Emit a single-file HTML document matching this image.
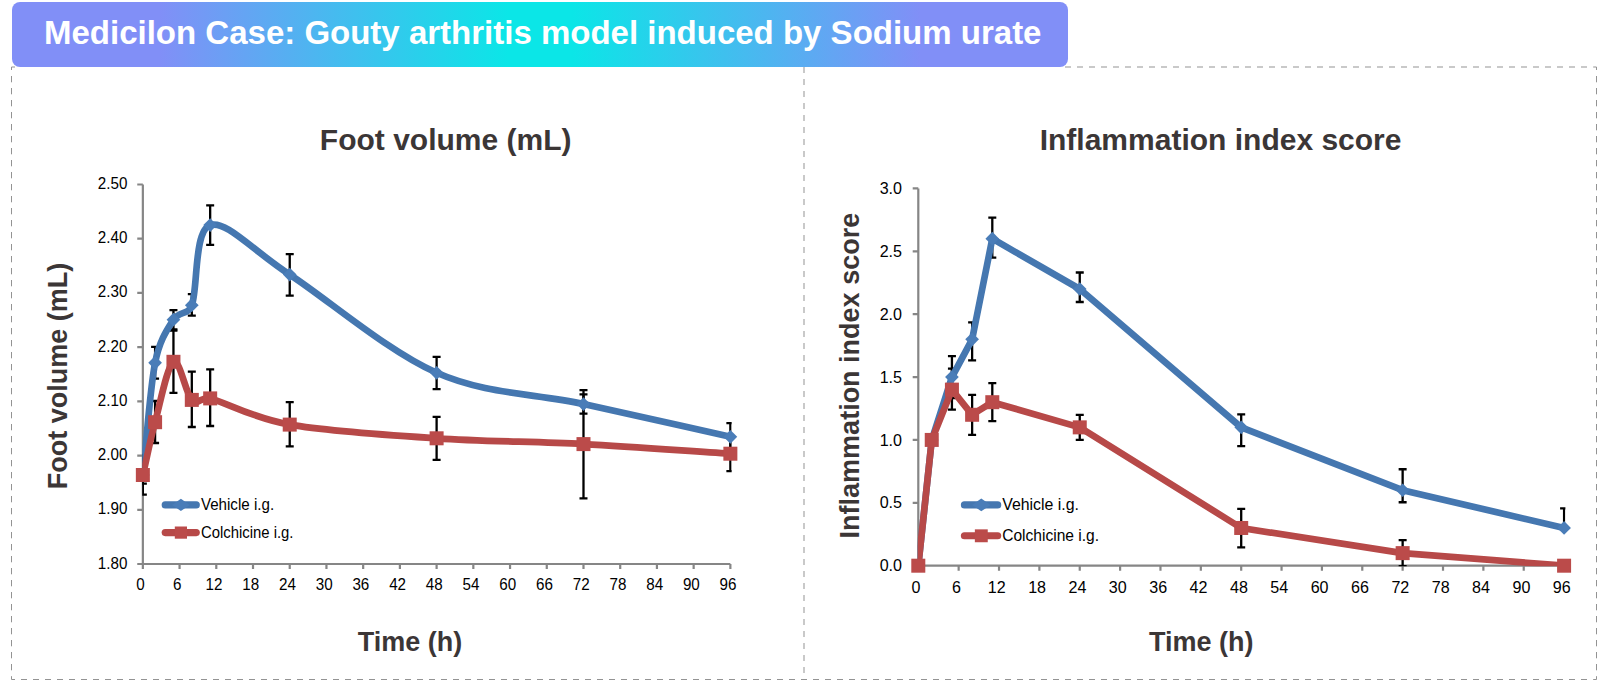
<!DOCTYPE html>
<html lang="en"><head><meta charset="utf-8"><title>Medicilon Case: Gouty arthritis model induced by Sodium urate</title>
<style>html,body{margin:0;padding:0;background:#fff;}body{width:1608px;height:687px;overflow:hidden;position:relative;font-family:"Liberation Sans", sans-serif;}svg{position:absolute;left:0;top:0;display:block;}text{font-family:"Liberation Sans", sans-serif;}.tk{font-size:15.2px;fill:#000;}.ttl{font-weight:bold;font-size:30px;fill:#3b3636;}.axt{font-weight:bold;font-size:27px;fill:#3b3636;}.lg{font-size:15.2px;fill:#000;}.tkr{font-size:16.1px;fill:#000;}</style>
</head><body>
<svg width="1608" height="687" viewBox="0 0 1608 687">
<defs><linearGradient id="bg" x1="0" y1="0" x2="1" y2="0"><stop offset="0" stop-color="#818ff7"/><stop offset="0.14" stop-color="#818ff7"/><stop offset="0.47" stop-color="#0be6e7"/><stop offset="0.53" stop-color="#0be6e7"/><stop offset="0.86" stop-color="#818ff7"/><stop offset="1" stop-color="#818ff7"/></linearGradient>
<clipPath id="cl"><rect x="142.20" y="100" width="589.47" height="464.65"/></clipPath>
<clipPath id="cr"><rect x="917.65" y="100" width="647.74" height="466.35"/></clipPath>
</defs>
<g fill="none" stroke="#939393" stroke-width="1">
<path d="M11.5 76 V670.4 M1596.5 76 V670.4" stroke-dasharray="6.3 5.7"/>
<path d="M21 679.5 H1587.1 M1065 67 H1587.1" stroke-dasharray="6 6"/>
<path d="M804 67 V673.1" stroke-dasharray="6 6"/>
<path d="M11.5 70 V67 H15 M1593.2 67 H1596.5 V70 M11.5 676.2 V679.5 H15 M1593.2 679.5 H1596.5 V676.2"/>
</g>
<rect x="12" y="2" width="1056" height="65" rx="8" ry="8" fill="url(#bg)"/>
<text x="44" y="44.1" font-size="33" font-weight="bold" fill="#fff">Medicilon Case: Gouty arthritis model induced by Sodium urate</text>
<text class="ttl" x="445.7" y="150.1" text-anchor="middle">Foot volume (mL)</text>
<text class="axt" x="410.1" y="650.8" text-anchor="middle">Time (h)</text>
<text class="axt" transform="translate(67.3 376) rotate(-90)" text-anchor="middle">Foot volume (mL)</text>
<path d="M142.85 184.50 V564.00 H730.37 M137.25 184.50 H142.85 M137.25 238.71 H142.85 M137.25 292.93 H142.85 M137.25 347.14 H142.85 M137.25 401.36 H142.85 M137.25 455.57 H142.85 M137.25 509.79 H142.85 M137.25 564.00 H142.85 M142.85 564.00 V569.00 M179.57 564.00 V569.00 M216.29 564.00 V569.00 M253.01 564.00 V569.00 M289.73 564.00 V569.00 M326.45 564.00 V569.00 M363.17 564.00 V569.00 M399.89 564.00 V569.00 M436.61 564.00 V569.00 M473.33 564.00 V569.00 M510.05 564.00 V569.00 M546.77 564.00 V569.00 M583.49 564.00 V569.00 M620.21 564.00 V569.00 M656.93 564.00 V569.00 M693.65 564.00 V569.00 M730.37 564.00 V569.00" fill="none" stroke="#868686" stroke-width="2.2"/>
<text class="tk" transform="translate(127.40 189.00) scale(1 1.07)" text-anchor="end">2.50</text>
<text class="tk" transform="translate(127.40 243.21) scale(1 1.07)" text-anchor="end">2.40</text>
<text class="tk" transform="translate(127.40 297.43) scale(1 1.07)" text-anchor="end">2.30</text>
<text class="tk" transform="translate(127.40 351.64) scale(1 1.07)" text-anchor="end">2.20</text>
<text class="tk" transform="translate(127.40 405.86) scale(1 1.07)" text-anchor="end">2.10</text>
<text class="tk" transform="translate(127.40 460.07) scale(1 1.07)" text-anchor="end">2.00</text>
<text class="tk" transform="translate(127.40 514.29) scale(1 1.07)" text-anchor="end">1.90</text>
<text class="tk" transform="translate(127.40 568.50) scale(1 1.07)" text-anchor="end">1.80</text>
<text class="tk" transform="translate(140.55 590.40) scale(1 1.07)" text-anchor="middle">0</text>
<text class="tk" transform="translate(177.27 590.40) scale(1 1.07)" text-anchor="middle">6</text>
<text class="tk" transform="translate(213.99 590.40) scale(1 1.07)" text-anchor="middle">12</text>
<text class="tk" transform="translate(250.71 590.40) scale(1 1.07)" text-anchor="middle">18</text>
<text class="tk" transform="translate(287.43 590.40) scale(1 1.07)" text-anchor="middle">24</text>
<text class="tk" transform="translate(324.15 590.40) scale(1 1.07)" text-anchor="middle">30</text>
<text class="tk" transform="translate(360.87 590.40) scale(1 1.07)" text-anchor="middle">36</text>
<text class="tk" transform="translate(397.59 590.40) scale(1 1.07)" text-anchor="middle">42</text>
<text class="tk" transform="translate(434.31 590.40) scale(1 1.07)" text-anchor="middle">48</text>
<text class="tk" transform="translate(471.03 590.40) scale(1 1.07)" text-anchor="middle">54</text>
<text class="tk" transform="translate(507.75 590.40) scale(1 1.07)" text-anchor="middle">60</text>
<text class="tk" transform="translate(544.47 590.40) scale(1 1.07)" text-anchor="middle">66</text>
<text class="tk" transform="translate(581.19 590.40) scale(1 1.07)" text-anchor="middle">72</text>
<text class="tk" transform="translate(617.91 590.40) scale(1 1.07)" text-anchor="middle">78</text>
<text class="tk" transform="translate(654.63 590.40) scale(1 1.07)" text-anchor="middle">84</text>
<text class="tk" transform="translate(691.35 590.40) scale(1 1.07)" text-anchor="middle">90</text>
<text class="tk" transform="translate(728.07 590.40) scale(1 1.07)" text-anchor="middle">96</text>
<g clip-path="url(#cl)">
<path d="M142.85 466.00 V483.60 M138.85 466.00 H146.85 M138.85 483.60 H146.85 M155.09 346.90 V378.70 M151.09 346.90 H159.09 M151.09 378.70 H159.09 M173.45 310.10 V329.30 M169.45 310.10 H177.45 M169.45 329.30 H177.45 M191.81 294.10 V315.70 M187.81 294.10 H195.81 M187.81 315.70 H195.81 M210.17 205.30 V244.90 M206.17 205.30 H214.17 M206.17 244.90 H214.17 M289.73 254.20 V295.60 M285.73 254.20 H293.73 M285.73 295.60 H293.73 M436.61 356.80 V389.10 M432.61 356.80 H440.61 M432.61 389.10 H440.61 M583.49 390.10 V413.70 M579.49 390.10 H587.49 M579.49 413.70 H587.49 M730.37 423.20 V450.40 M726.37 423.20 H734.37 M726.37 450.40 H734.37" fill="none" stroke="#000" stroke-width="2.30"/>
<path d="M142.85 455.00 V494.60 M138.85 455.00 H146.85 M138.85 494.60 H146.85 M155.09 401.00 V443.00 M151.09 401.00 H159.09 M151.09 443.00 H159.09 M173.45 330.70 V392.90 M169.45 330.70 H177.45 M169.45 392.90 H177.45 M191.81 371.60 V427.00 M187.81 371.60 H195.81 M187.81 427.00 H195.81 M210.17 369.30 V426.00 M206.17 369.30 H214.17 M206.17 426.00 H214.17 M289.73 402.20 V446.40 M285.73 402.20 H293.73 M285.73 446.40 H293.73 M436.61 416.80 V459.80 M432.61 416.80 H440.61 M432.61 459.80 H440.61 M583.49 394.30 V498.30 M579.49 394.30 H587.49 M579.49 498.30 H587.49 M730.37 436.00 V471.20 M726.37 436.00 H734.37 M726.37 471.20 H734.37" fill="none" stroke="#000" stroke-width="2.30"/>
<path d="M142.85 475.00 C146.93 437.60 149.99 388.68 155.09 362.80 C159.62 339.82 167.33 329.30 173.45 319.70 C179.57 310.10 187.58 316.10 191.81 305.20 C197.93 289.43 193.85 230.20 210.17 225.10 C226.49 220.00 251.99 249.98 289.73 274.60 C327.47 299.22 387.65 351.22 436.61 372.80 C485.57 394.38 534.53 393.43 583.49 404.10 C632.45 414.77 681.41 425.90 730.37 436.80" fill="none" stroke="#4577b0" stroke-width="6.70" stroke-linejoin="round" stroke-linecap="round"/>
</g>
<path d="M142.85 468.15 L149.70 475.00 L142.85 481.85 L136.00 475.00Z" fill="#4a7db8"/>
<path d="M155.09 355.95 L161.94 362.80 L155.09 369.65 L148.24 362.80Z" fill="#4a7db8"/>
<path d="M173.45 312.85 L180.30 319.70 L173.45 326.55 L166.60 319.70Z" fill="#4a7db8"/>
<path d="M191.81 298.35 L198.66 305.20 L191.81 312.05 L184.96 305.20Z" fill="#4a7db8"/>
<path d="M210.17 218.25 L217.02 225.10 L210.17 231.95 L203.32 225.10Z" fill="#4a7db8"/>
<path d="M289.73 267.75 L296.58 274.60 L289.73 281.45 L282.88 274.60Z" fill="#4a7db8"/>
<path d="M436.61 365.95 L443.46 372.80 L436.61 379.65 L429.76 372.80Z" fill="#4a7db8"/>
<path d="M583.49 397.25 L590.34 404.10 L583.49 410.95 L576.64 404.10Z" fill="#4a7db8"/>
<path d="M730.37 429.95 L737.22 436.80 L730.37 443.65 L723.52 436.80Z" fill="#4a7db8"/>
<g clip-path="url(#cl)">
<path d="M142.85 475.00 C146.93 457.40 149.99 441.07 155.09 422.20 C160.19 403.33 167.33 365.52 173.45 361.80 C179.57 358.08 185.69 393.80 191.81 399.90 C197.93 406.00 201.24 396.15 210.17 398.40 C226.49 402.52 251.99 417.95 289.73 424.60 C327.47 431.25 387.65 435.05 436.61 438.30 C485.57 441.55 534.53 441.53 583.49 444.10 C632.45 446.67 681.41 450.50 730.37 453.70" fill="none" stroke="#b74948" stroke-width="6.70" stroke-linejoin="round" stroke-linecap="round"/>
</g>
<rect x="135.85" y="468.00" width="14.00" height="14.00" fill="#bb4b4a"/>
<rect x="148.09" y="415.20" width="14.00" height="14.00" fill="#bb4b4a"/>
<rect x="166.45" y="354.80" width="14.00" height="14.00" fill="#bb4b4a"/>
<rect x="184.81" y="392.90" width="14.00" height="14.00" fill="#bb4b4a"/>
<rect x="203.17" y="391.40" width="14.00" height="14.00" fill="#bb4b4a"/>
<rect x="282.73" y="417.60" width="14.00" height="14.00" fill="#bb4b4a"/>
<rect x="429.61" y="431.30" width="14.00" height="14.00" fill="#bb4b4a"/>
<rect x="576.49" y="437.10" width="14.00" height="14.00" fill="#bb4b4a"/>
<rect x="723.37" y="446.70" width="14.00" height="14.00" fill="#bb4b4a"/>
<path d="M165.20 504.90 H196.30" stroke="#4577b0" stroke-width="7.1" stroke-linecap="round"/>
<path d="M180.90 498.80 L189.75 504.90 L180.90 511.00 L172.06 504.90Z" fill="#4a7db8"/>
<text transform="translate(200.90 509.80) scale(1 1.07)" font-size="15.2" fill="#000" textLength="73.2" lengthAdjust="spacingAndGlyphs">Vehicle i.g.</text>
<path d="M165.20 532.60 H196.30" stroke="#b74948" stroke-width="7.1" stroke-linecap="round"/>
<rect x="174.80" y="526.50" width="12.20" height="12.20" fill="#bb4b4a"/>
<text transform="translate(200.90 537.50) scale(1 1.07)" font-size="15.2" fill="#000" textLength="92.6" lengthAdjust="spacingAndGlyphs">Colchicine i.g.</text>
<text class="ttl" x="1220.6" y="149.8" text-anchor="middle">Inflammation index score</text>
<text class="axt" x="1201.2" y="650.8" text-anchor="middle">Time (h)</text>
<text class="axt" transform="translate(858.8 375.6) rotate(-90)" text-anchor="middle">Inflammation index score</text>
<path d="M918.30 188.40 V565.70 H1564.09 M912.70 188.40 H918.30 M912.70 251.28 H918.30 M912.70 314.17 H918.30 M912.70 377.05 H918.30 M912.70 439.93 H918.30 M912.70 502.82 H918.30 M912.70 565.70 H918.30 M918.30 565.70 V570.70 M958.66 565.70 V570.70 M999.02 565.70 V570.70 M1039.39 565.70 V570.70 M1079.75 565.70 V570.70 M1120.11 565.70 V570.70 M1160.47 565.70 V570.70 M1200.83 565.70 V570.70 M1241.20 565.70 V570.70 M1281.56 565.70 V570.70 M1321.92 565.70 V570.70 M1362.28 565.70 V570.70 M1402.64 565.70 V570.70 M1443.01 565.70 V570.70 M1483.37 565.70 V570.70 M1523.73 565.70 V570.70 M1564.09 565.70 V570.70" fill="none" stroke="#868686" stroke-width="2.2"/>
<text class="tkr" transform="translate(902.00 194.00) scale(1 1.07)" text-anchor="end">3.0</text>
<text class="tkr" transform="translate(902.00 256.88) scale(1 1.07)" text-anchor="end">2.5</text>
<text class="tkr" transform="translate(902.00 319.77) scale(1 1.07)" text-anchor="end">2.0</text>
<text class="tkr" transform="translate(902.00 382.65) scale(1 1.07)" text-anchor="end">1.5</text>
<text class="tkr" transform="translate(902.00 445.53) scale(1 1.07)" text-anchor="end">1.0</text>
<text class="tkr" transform="translate(902.00 508.42) scale(1 1.07)" text-anchor="end">0.5</text>
<text class="tkr" transform="translate(902.00 571.30) scale(1 1.07)" text-anchor="end">0.0</text>
<text class="tkr" transform="translate(916.00 592.60) scale(1 1.07)" text-anchor="middle">0</text>
<text class="tkr" transform="translate(956.36 592.60) scale(1 1.07)" text-anchor="middle">6</text>
<text class="tkr" transform="translate(996.72 592.60) scale(1 1.07)" text-anchor="middle">12</text>
<text class="tkr" transform="translate(1037.09 592.60) scale(1 1.07)" text-anchor="middle">18</text>
<text class="tkr" transform="translate(1077.45 592.60) scale(1 1.07)" text-anchor="middle">24</text>
<text class="tkr" transform="translate(1117.81 592.60) scale(1 1.07)" text-anchor="middle">30</text>
<text class="tkr" transform="translate(1158.17 592.60) scale(1 1.07)" text-anchor="middle">36</text>
<text class="tkr" transform="translate(1198.53 592.60) scale(1 1.07)" text-anchor="middle">42</text>
<text class="tkr" transform="translate(1238.90 592.60) scale(1 1.07)" text-anchor="middle">48</text>
<text class="tkr" transform="translate(1279.26 592.60) scale(1 1.07)" text-anchor="middle">54</text>
<text class="tkr" transform="translate(1319.62 592.60) scale(1 1.07)" text-anchor="middle">60</text>
<text class="tkr" transform="translate(1359.98 592.60) scale(1 1.07)" text-anchor="middle">66</text>
<text class="tkr" transform="translate(1400.34 592.60) scale(1 1.07)" text-anchor="middle">72</text>
<text class="tkr" transform="translate(1440.71 592.60) scale(1 1.07)" text-anchor="middle">78</text>
<text class="tkr" transform="translate(1481.07 592.60) scale(1 1.07)" text-anchor="middle">84</text>
<text class="tkr" transform="translate(1521.43 592.60) scale(1 1.07)" text-anchor="middle">90</text>
<text class="tkr" transform="translate(1561.79 592.60) scale(1 1.07)" text-anchor="middle">96</text>
<g clip-path="url(#cr)">
<path d="M951.93 356.05 V398.05 M947.93 356.05 H955.93 M947.93 398.05 H955.93 M972.12 322.32 V360.32 M968.12 322.32 H976.12 M968.12 360.32 H976.12 M992.30 217.71 V257.71 M988.30 217.71 H996.30 M988.30 257.71 H996.30 M1079.75 272.51 V302.01 M1075.75 272.51 H1083.75 M1075.75 302.01 H1083.75 M1241.20 414.36 V446.06 M1237.20 414.36 H1245.20 M1237.20 446.06 H1245.20 M1402.64 469.24 V502.24 M1398.64 469.24 H1406.64 M1398.64 502.24 H1406.64 M1564.09 508.47 V527.97 M1560.09 508.47 H1568.09 M1560.09 527.97 H1568.09" fill="none" stroke="#000" stroke-width="2.30"/>
<path d="M951.93 368.63 V409.63 M947.93 368.63 H955.93 M947.93 409.63 H955.93 M972.12 394.78 V434.78 M968.12 394.78 H976.12 M968.12 434.78 H976.12 M992.30 383.20 V421.20 M988.30 383.20 H996.30 M988.30 421.20 H996.30 M1079.75 414.86 V439.86 M1075.75 414.86 H1083.75 M1075.75 439.86 H1083.75 M1241.20 508.97 V547.47 M1237.20 508.97 H1245.20 M1237.20 547.47 H1245.20 M1402.64 540.12 V566.12 M1398.64 540.12 H1406.64 M1398.64 566.12 H1406.64" fill="none" stroke="#000" stroke-width="2.30"/>
<path d="M918.30 565.70 L931.75 439.93 L951.93 377.05 L972.12 339.32 L992.30 238.71 L1079.75 289.01 L1241.20 427.36 L1402.64 490.24 L1564.09 527.97" fill="none" stroke="#4577b0" stroke-width="6.70" stroke-linejoin="round" stroke-linecap="round"/>
</g>
<path d="M931.75 433.08 L938.60 439.93 L931.75 446.78 L924.90 439.93Z" fill="#4a7db8"/>
<path d="M951.93 370.20 L958.78 377.05 L951.93 383.90 L945.08 377.05Z" fill="#4a7db8"/>
<path d="M972.12 332.47 L978.97 339.32 L972.12 346.17 L965.27 339.32Z" fill="#4a7db8"/>
<path d="M992.30 231.86 L999.15 238.71 L992.30 245.56 L985.45 238.71Z" fill="#4a7db8"/>
<path d="M1079.75 282.16 L1086.60 289.01 L1079.75 295.86 L1072.90 289.01Z" fill="#4a7db8"/>
<path d="M1241.20 420.51 L1248.05 427.36 L1241.20 434.21 L1234.35 427.36Z" fill="#4a7db8"/>
<path d="M1402.64 483.39 L1409.49 490.24 L1402.64 497.09 L1395.79 490.24Z" fill="#4a7db8"/>
<path d="M1564.09 521.12 L1570.94 527.97 L1564.09 534.82 L1557.24 527.97Z" fill="#4a7db8"/>
<g clip-path="url(#cr)">
<path d="M918.30 565.70 L931.75 439.93 L951.93 389.63 L972.12 414.78 L992.30 402.20 L1079.75 427.36 L1241.20 527.97 L1402.64 553.12 L1564.09 565.70" fill="none" stroke="#b74948" stroke-width="6.70" stroke-linejoin="round" stroke-linecap="round"/>
</g>
<rect x="911.30" y="558.70" width="14.00" height="14.00" fill="#bb4b4a"/>
<rect x="924.75" y="432.93" width="14.00" height="14.00" fill="#bb4b4a"/>
<rect x="944.93" y="382.63" width="14.00" height="14.00" fill="#bb4b4a"/>
<rect x="965.12" y="407.78" width="14.00" height="14.00" fill="#bb4b4a"/>
<rect x="985.30" y="395.20" width="14.00" height="14.00" fill="#bb4b4a"/>
<rect x="1072.75" y="420.36" width="14.00" height="14.00" fill="#bb4b4a"/>
<rect x="1234.20" y="520.97" width="14.00" height="14.00" fill="#bb4b4a"/>
<rect x="1395.64" y="546.12" width="14.00" height="14.00" fill="#bb4b4a"/>
<rect x="1557.09" y="558.70" width="14.00" height="14.00" fill="#bb4b4a"/>
<path d="M964.40 504.90 H997.70" stroke="#4577b0" stroke-width="7.1" stroke-linecap="round"/>
<path d="M981.30 498.50 L990.58 504.90 L981.30 511.30 L972.02 504.90Z" fill="#4a7db8"/>
<text transform="translate(1002.20 509.90) scale(1 1.07)" font-size="16.1" fill="#000" textLength="76.8" lengthAdjust="spacingAndGlyphs">Vehicle i.g.</text>
<path d="M964.40 535.80 H997.70" stroke="#b74948" stroke-width="7.1" stroke-linecap="round"/>
<rect x="974.85" y="529.35" width="12.90" height="12.90" fill="#bb4b4a"/>
<text transform="translate(1002.20 540.90) scale(1 1.07)" font-size="16.1" fill="#000" textLength="96.9" lengthAdjust="spacingAndGlyphs">Colchicine i.g.</text>
</svg></body></html>
